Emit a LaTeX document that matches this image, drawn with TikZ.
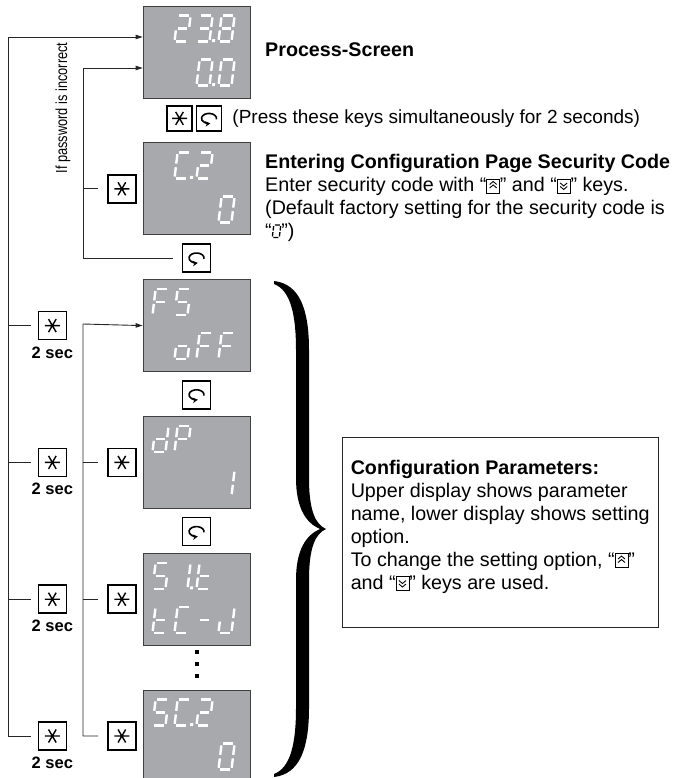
\documentclass[tikz,border=0pt]{standalone}
\usepackage{fontspec}
\setmainfont{Liberation Sans}
\newfontfamily\narrowfont{Liberation Sans}[FakeStretch=0.8]
\usetikzlibrary{positioning,arrows.meta}

\definecolor{lcdgray}{RGB}{167,169,172}

% small key symbols inside the text
\newcommand\upkey{\tikz[x=1pt,y=1pt,baseline=0pt]{%
  \draw[line width=0.6pt] (0,-1.5) rectangle (13,12.5);
  \draw[line width=0.9pt] (3,3.5)--(6.5,6.5)--(10,3.5) (3,7)--(6.5,10)--(10,7);}}
\newcommand\downkey{\tikz[x=1pt,y=1pt,baseline=0pt]{%
  \draw[line width=0.6pt] (0,-1.5) rectangle (13,12.5);
  \draw[line width=0.9pt] (3,8.5)--(6.5,5.5)--(10,8.5) (3,5)--(6.5,2)--(10,5);}}
\newcommand\zeroseg{\tikz[x=1pt,y=1pt,baseline=0pt,xslant=0.12,line width=1.3pt]{%
  \draw (1,12.4)--(6,12.4) (7,11.4)--(7,7) (7,5.4)--(7,1) (6,0)--(1,0) (0,1)--(0,5.4) (0,7)--(0,11.4);}}

% one row of 7-segment characters: row offset, cell/char pairs
\newcommand\lcdtext[2]{%
  \foreach \cell/\chr in {#2}{%
    \begin{scope}[shift={(13+22*\cell,#1)}, xslant=0.12]
      \edef\tmpch{\noexpand\tikzset{ch/\chr}}\tmpch
    \end{scope}}}

\begin{document}
\begin{tikzpicture}[x=1pt, y=-1pt,
    % Estilos
    every node/.style={font=\fontsize{19.7}{23}\selectfont},
    lcd/.style={draw=black!75, line width=0.8pt, fill=lcdgray,
                minimum width=107, minimum height=92, inner sep=0},
    key/.style={draw, line width=1.5pt, fill=white,
                minimum width=28, minimum height=28, inner sep=0},
    smallkey/.style={minimum width=25, minimum height=25},
    starkey/.style={key, path picture={
        \begin{scope}[shift={(path picture bounding box.center)}]
          \draw[line width=1.4pt] (-7.5,0) -- (7.5,0) (-3.8,-6.5) -- (3.8,6.5) (-3.8,6.5) -- (3.8,-6.5);
        \end{scope}}},
    loopkey/.style={key, path picture={
        \begin{scope}[shift={(path picture bounding box.center)}]
          \draw[line width=1.6pt, -{Stealth[length=5pt,width=5.5pt]}]
            (7.4,0.9) arc[start angle=10, end angle=-280, x radius=7.5, y radius=5];
        \end{scope}}},
    sec/.style={font=\bfseries\fontsize{16.5}{20}\selectfont, inner sep=2pt},
    dot/.style={fill=black, minimum size=4.5, inner sep=0},
    line/.style={draw=black!85, line width=0.9pt},
    flow/.style={line, -{Triangle[length=7pt,width=4.5pt]}},
    % 7-segment pieces
    segline/.style={white, line width=2.4pt},
    sg/a/.code={\draw[segline] (1.8,0) -- (11.2,0);},
    sg/b/.code={\draw[segline] (13,1.8) -- (13,11.2);},
    sg/c/.code={\draw[segline] (13,14.8) -- (13,24.2);},
    sg/d/.code={\draw[segline] (1.8,26) -- (11.2,26);},
    sg/e/.code={\draw[segline] (0,14.8) -- (0,24.2);},
    sg/f/.code={\draw[segline] (0,1.8) -- (0,11.2);},
    sg/g/.code={\draw[segline] (1.8,13) -- (11.2,13);},
    sg/p/.code={\fill[white] (15.5,23.5) rectangle (18.5,26.5);},
    ch/0/.style={sg/a,sg/b,sg/c,sg/d,sg/e,sg/f},
    ch/1/.style={sg/b,sg/c},
    ch/2/.style={sg/a,sg/b,sg/g,sg/e,sg/d},
    ch/3/.style={sg/a,sg/b,sg/g,sg/c,sg/d},
    ch/8/.style={sg/a,sg/b,sg/c,sg/d,sg/e,sg/f,sg/g},
    ch/C/.style={sg/a,sg/d,sg/e,sg/f},
    ch/F/.style={sg/a,sg/e,sg/f,sg/g},
    ch/S/.style={sg/a,sg/f,sg/g,sg/c,sg/d},
    ch/o/.style={sg/c,sg/d,sg/e,sg/g},
    ch/d/.style={sg/b,sg/c,sg/d,sg/e,sg/g},
    ch/P/.style={sg/a,sg/b,sg/e,sg/f,sg/g},
    ch/t/.style={sg/d,sg/e,sg/f,sg/g},
    ch/J/.style={sg/b,sg/c,sg/d,sg/e},
    ch/-/.style={sg/g},
    ch/p/.style={sg/p}
]
\useasboundingbox (0,0) rectangle (672,778);

% Displays
\node[lcd] (d1) at (196.5,52) {};
\node[lcd, below=44pt of d1] (d2) {};
\node[lcd, below=44pt of d2] (d3) {};
\node[lcd, below=44pt of d3] (d4) {};
\node[lcd, below=44pt of d4] (d5) {};
\node[lcd, below=44pt of d5] (d6) {};

% Display contents
\begin{scope}[shift={(d1.north west)}]
  \lcdtext{10}{1/2, 2/3, 2/p, 3/8}
  \lcdtext{54}{2/0, 2/p, 3/0}
\end{scope}
\begin{scope}[shift={(d2.north west)}]
  \lcdtext{10}{1/C, 1/p, 2/2}
  \lcdtext{54}{3/0}
\end{scope}
\begin{scope}[shift={(d3.north west)}]
  \lcdtext{10}{0/F, 1/S}
  \lcdtext{54}{1/o, 2/F, 3/F}
\end{scope}
\begin{scope}[shift={(d4.north west)}]
  \lcdtext{10}{0/d, 1/P}
  \lcdtext{54}{3/1}
\end{scope}
\begin{scope}[shift={(d5.north west)}]
  \lcdtext{10}{0/S, 1/1, 1/p, 2/t}
  \lcdtext{54}{0/t, 1/C, 2/-, 3/J}
\end{scope}
\begin{scope}[shift={(d6.north west)}]
  \lcdtext{10}{0/S, 1/C, 1/p, 2/2}
  \lcdtext{54}{3/0}
\end{scope}

% Keys
\node[starkey, smallkey] (kpa) at ([xshift=-17pt, yshift=-20pt]d1.south) {};
\node[loopkey, smallkey, right=3pt of kpa] (kpb) {};
\node[starkey, left=6pt of d2] (ks2) {};
\node[loopkey, below=8pt of d2] (lk2) {};
\node[loopkey, below=8pt of d3] (lk3) {};
\node[loopkey, below=8pt of d4] (lk4) {};
\node[starkey, left=6pt of d4] (ki2) {};
\node[starkey, left=6pt of d5] (ki3) {};
\node[starkey, left=6pt of d6] (ki4) {};
\node[starkey, left=40pt of ki2] (ko2) {};
\node[starkey] (ko1) at (ko2 |- d3) {};
\node[starkey, left=40pt of ki3] (ko3) {};
\node[starkey, left=40pt of ki4] (ko4) {};

\foreach \k in {ko1,ko2,ko3,ko4}
  \node[sec, below=4pt of \k] (sec-\k) {2 sec};

% Dots between the last two displays
\foreach \i in {0,1,2}
  \node[dot] (dot\i) at (197,652+12*\i) {};

% Connectors
\coordinate (railout) at (8,37);
\draw[flow] ([xshift=-7pt]ko4.west) -| (railout) -- (d1.west |- railout);
\foreach \k in {ko1,ko2,ko3}
  \draw[line] ([xshift=-7pt]\k.west) -- (\k.west -| railout);

\coordinate (railpw) at (83,68);
\draw[flow] ([xshift=-9pt]lk2.west) -| (railpw) -- (d1.west |- railpw);
\draw[line] ([xshift=-9pt]ks2.west) -- (ks2.west -| railpw);

\coordinate (railcfg) at (83,324);
\draw[flow] ([xshift=-9pt]ki4.west) -| (railcfg) -- (d3.west);
\foreach \k in {ki2,ki3}
  \draw[line] ([xshift=-9pt]\k.west) -- (\k.west -| railcfg);

\node[rotate=90, font=\narrowfont\fontsize{16}{20}\selectfont] (pwnote) at (63,108) {If password is incorrect};

% Brace
\fill (274,281) .. controls (300,284) and (309,310) .. (309,350) -- (309,478)
  .. controls (309,510) and (315,524) .. (326,529)
  .. controls (315,534) and (309,548) .. (309,580) -- (309,708)
  .. controls (309,748) and (300,774) .. (274,777)
  -- (274,774) .. controls (290,768) and (296,745) .. (296,708) -- (296,580)
  .. controls (296,550) and (306,535) .. (320,529)
  .. controls (306,523) and (296,508) .. (296,478) -- (296,350)
  .. controls (296,313) and (290,290) .. (274,284) -- cycle;

% Texts
\node[anchor=west, inner sep=0, font=\bfseries\fontsize{19.7}{23}\selectfont] (pstitle) at (265,50) {Process-Screen};
\node[anchor=west, inner sep=0, font=\fontsize{19}{22}\selectfont] (pressnote) at ([xshift=10pt]kpb.east)
  {(Press these keys simultaneously for 2 seconds)};
\node[anchor=north west, inner sep=0, align=left] (secnote) at (265,154) {
  \textbf{Entering Configuration Page Security Code}\\
  Enter security code with “\upkey” and “\downkey” keys.\\
  (Default factory setting for the security code is\\
  “\zeroseg”)};

% Configuration box
\node[draw=black!85, line width=0.9pt, minimum width=316, minimum height=190] (cfg) at (500,532) {};
\node[anchor=north west, inner sep=0, align=left] (cfgtext) at ([shift={(9,23)}]cfg.north west) {
  \textbf{Configuration Parameters:}\\
  Upper display shows parameter\\
  name, lower display shows setting\\
  option.\\
  To change the setting option, “\upkey”\\
  and “\downkey” keys are used.};

\end{tikzpicture}
\end{document}
